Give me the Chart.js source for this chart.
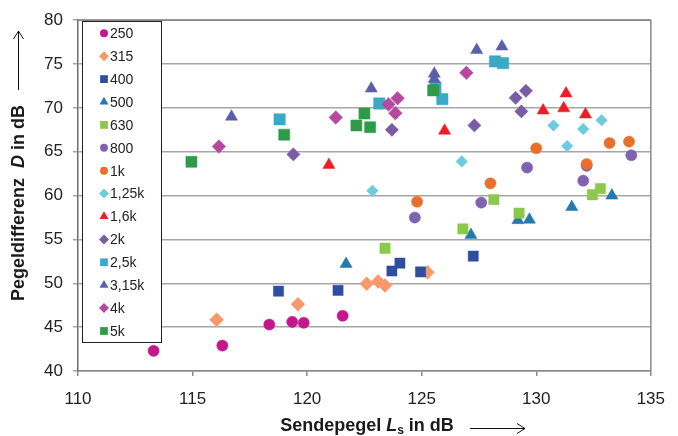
<!DOCTYPE html>
<html lang="de">
<head>
<meta charset="utf-8">
<script src="https://cdn.jsdelivr.net/npm/chart.js@4.4.1/dist/chart.umd.min.js"></script>
<style>
  body { margin: 0; background: #fff; }
  #wrap { position: relative; width: 678px; height: 436px; font-family: "Liberation Sans", Arial, Helvetica, sans-serif; color: #1a1a1a; }
  #wrap canvas { position: absolute; left: 0; top: 0; }
  .title { position: absolute; white-space: nowrap; font-weight: bold; font-size: 18px; line-height: 1; }
  .ytitle { left: 18px; top: 203px; transform: translate(-50%, -50%) rotate(-90deg); }
  .xtitle { left: 367px; top: 425px; transform: translate(-50%, -50%); }
  .xtitle sub { font-size: 12px; vertical-align: -3px; line-height: 0; }
</style>
</head>
<body>
<div id="wrap">
  <canvas id="chart" width="678" height="436"></canvas>
  <div class="title ytitle">Pegeldifferenz&nbsp; <i>D</i> in dB</div>
  <div class="title xtitle">Sendepegel <i>L</i><sub>s</sub> in dB</div>
</div>
<script>
// Terzbänder (Legende)
const bands = ['250', '315', '400', '500', '630', '800', '1k', '1,25k', '1,6k', '2k', '2,5k', '3,15k', '4k', '5k'];

// Messpunkte je Band: [Sendepegel Ls, Pegeldifferenz D]
const pts250  = [[113.3, 42.3], [116.3, 42.9], [118.35, 45.3], [119.35, 45.6], [119.85, 45.5], [121.55, 46.3]];
const pts315  = [[116.05, 45.85], [119.6, 47.6], [122.6, 49.95], [123.1, 50.2], [123.4, 49.75], [125.25, 51.25]];
const pts400  = [[118.75, 49.1], [121.35, 49.2], [123.7, 51.4], [124.05, 52.3], [124.95, 51.3], [127.25, 53.1]];
const pts500  = [[121.7, 52.2], [127.15, 55.5], [129.2, 57.2], [129.7, 57.25], [131.55, 58.7], [133.3, 60.0]];
const pts630  = [[123.4, 54.0], [126.8, 56.2], [128.15, 59.55], [129.25, 58.0], [132.45, 60.1], [132.8, 60.8]];
const pts800  = [[124.7, 57.5], [127.6, 59.2], [129.6, 63.2], [132.05, 61.7], [132.2, 63.4], [134.15, 64.6]];
const pts1k   = [[124.8, 59.3], [128.0, 61.4], [130.0, 65.4], [132.2, 63.6], [133.2, 66.0], [134.05, 66.15]];
const pts1k25 = [[122.85, 60.55], [126.75, 63.9], [130.75, 68.0], [131.35, 65.65], [132.05, 67.6], [132.85, 68.6]];
const pts1k6  = [[120.95, 63.5], [126.0, 67.4], [130.3, 69.7], [131.2, 69.95], [131.3, 71.65], [132.15, 69.25]];
const pts2k   = [[119.4, 64.7], [123.7, 67.5], [127.3, 68.0], [129.1, 71.15], [129.35, 69.6], [129.55, 71.95]];
const pts2k5  = [[118.8, 68.7], [123.15, 70.5], [125.6, 72.3], [125.9, 71.0], [128.2, 75.3], [128.55, 75.1]];
const pts3k15 = [[116.7, 69.0], [122.8, 72.2], [125.55, 73.9], [125.55, 73.3], [127.4, 76.6], [128.5, 77.0]];
const pts4k   = [[116.15, 65.6], [121.25, 68.9], [123.55, 70.4], [123.85, 69.4], [123.95, 71.1], [126.95, 74.0]];
const pts5k   = [[114.95, 63.85], [119.0, 66.95], [122.15, 68.0], [122.5, 69.35], [122.75, 67.8], [125.5, 72.0]];

// Achsenteilung
const xTicks = [110, 115, 120, 125, 130, 135];
const yTicks = [40, 45, 50, 55, 60, 65, 70, 75, 80];

const allPts = [pts250, pts315, pts400, pts500, pts630, pts800, pts1k, pts1k25, pts1k6, pts2k, pts2k5, pts3k15, pts4k, pts5k];
const colors = ['#c2188c', '#f7996a', '#2f4ea0', '#2479ad', '#8cc84c', '#7f63b0', '#e8702a', '#6ccbdc', '#ee1c25', '#7a5ca6', '#3aa9c6', '#5b5fab', '#b8479e', '#2e9b48'];
const styles = ['circle', 'rectRot', 'rect', 'triangle', 'rect', 'circle', 'circle', 'rectRot', 'triangle', 'rectRot', 'rect', 'triangle', 'rectRot', 'rect'];
const radii  = [5.6, 7, 7.2, 7, 7.3, 5.6, 5.6, 5.8, 7, 6.6, 8, 7, 6.8, 7.8];
const legendR = { circle: 4, rect: 5.5, triangle: 5.2, rectRot: 5 };

const FONT = '"Liberation Sans", Arial, Helvetica, sans-serif';

const datasets = bands.map((b, i) => ({
    label: b,
    data: allPts[i].map(p => ({ x: p[0], y: p[1] })),
    pointStyle: styles[i],
    pointRadius: radii[i],
    backgroundColor: colors[i],
    borderColor: colors[i],
    borderWidth: 0.5,
    order: bands.length - i   // spätere Reihen oben, wie im Original
}));

// Rahmen um die Zeichenfläche
const framePlugin = {
    id: 'frame',
    beforeDatasetsDraw(chart) {
        const a = chart.chartArea, c = chart.ctx;
        c.save();
        c.strokeStyle = '#8a8a8a';
        c.lineWidth = 1.5;
        c.beginPath();
        c.moveTo(a.left, a.top); c.lineTo(a.right, a.top); c.lineTo(a.right, a.bottom);
        c.stroke();
        c.restore();
    }
};

// Legende im Diagramm mit Rahmen
const boxLegend = {
    id: 'boxLegend',
    afterDatasetsDraw(chart) {
        const c = chart.ctx;
        const L = 82, T = 21, R = 161, B = 342;
        c.save();
        c.fillStyle = '#fff';
        c.fillRect(L, T, R - L, B - T);
        c.strokeStyle = '#222';
        c.lineWidth = 1;
        c.strokeRect(L + 0.5, T + 0.5, R - L, B - T);
        c.font = '14px ' + FONT;
        c.textBaseline = 'middle';
        bands.forEach((b, i) => {
            const y = 33.3 + i * 22.9;
            c.fillStyle = colors[i];
            c.strokeStyle = colors[i];
            Chart.helpers.drawPoint(c, { pointStyle: styles[i], radius: legendR[styles[i]], rotation: 0, borderWidth: 0 }, 104, y);
            c.fillStyle = '#222';
            c.fillText(b, 110, y + 1);
        });
        c.restore();
    }
};

// Pfeile an den Achsentiteln
const arrows = {
    id: 'arrows',
    afterDraw(chart) {
        const c = chart.ctx;
        c.save();
        c.strokeStyle = '#111';
        c.lineWidth = 1;
        c.beginPath();
        c.moveTo(18.5, 90); c.lineTo(18.5, 31);
        c.moveTo(13.5, 39); c.lineTo(18.5, 31); c.lineTo(23.5, 39);
        c.moveTo(470, 428.5); c.lineTo(525, 428.5);
        c.moveTo(517, 423.5); c.lineTo(525, 428.5); c.lineTo(517, 433.5);
        c.stroke();
        c.restore();
    }
};

new Chart(document.getElementById('chart'), {
    type: 'scatter',
    data: { datasets: datasets },
    options: {
        responsive: false,
        animation: false,
        layout: { padding: { top: 17, right: 17, left: 0, bottom: 0 } },
        plugins: { legend: { display: false }, tooltip: { enabled: false } },
        scales: {
            x: {
                type: 'linear',
                min: xTicks[0], max: xTicks[xTicks.length - 1],
                ticks: { stepSize: xTicks[1] - xTicks[0], padding: 13, color: '#222', font: { family: FONT, size: 17 } },
                grid: { drawOnChartArea: false, tickLength: 5, color: '#8a8a8a', lineWidth: 1.5 },
                border: { color: '#8a8a8a', width: 1.5 },
                afterFit(s) { s.height = 65; }
            },
            y: {
                min: yTicks[0], max: yTicks[yTicks.length - 1],
                ticks: { stepSize: yTicks[1] - yTicks[0], padding: 10, color: '#222', font: { family: FONT, size: 17 } },
                grid: { tickLength: 5, color: '#a6a6a6', lineWidth: 1.5 },
                border: { color: '#6e6e6e', width: 1.5 },
                afterFit(s) { s.width = 78; }
            }
        }
    },
    plugins: [framePlugin, boxLegend, arrows]
});
</script>
</body>
</html>
